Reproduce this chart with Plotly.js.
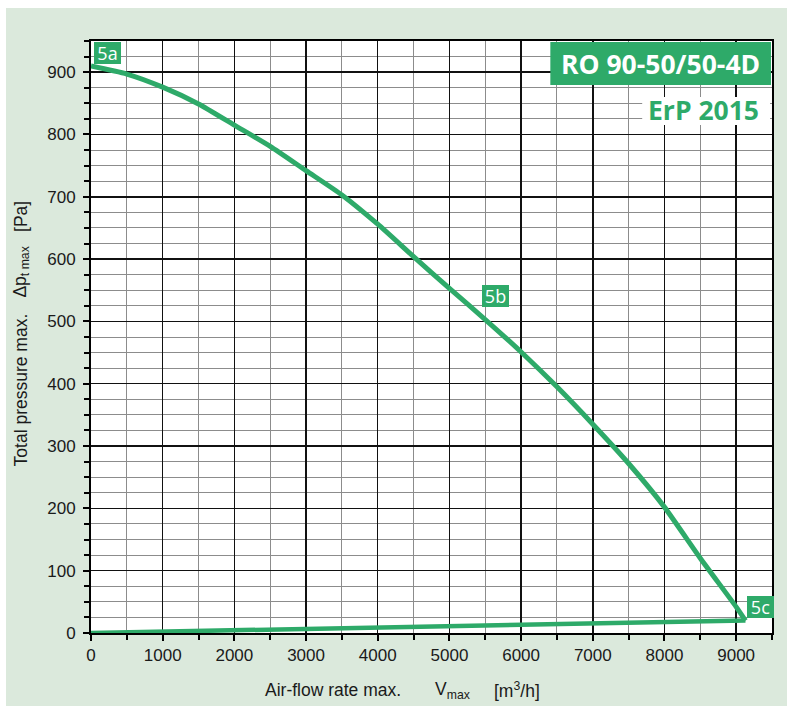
<!DOCTYPE html>
<html><head><meta charset="utf-8">
<script src="https://cdn.plot.ly/plotly-3.0.1.min.js"></script>
<style>
html,body{margin:0;padding:0;background:#ffffff;width:795px;height:706px;overflow:hidden}
#chart{position:absolute;left:6px;top:8px;width:781px;height:698px}
</style>
</head><body><div id="chart"></div>
<script>
// Fan curve: air-flow [m3/h] vs total pressure [Pa]
const flowCurve = [0, 500, 1000, 1500, 2000, 2500, 3000, 3500, 4000, 4500, 5000, 5500, 6000, 6500, 7000, 7500, 8000, 8500, 9000, 9130];
const pressureCurve = [910, 897, 876, 849, 815, 781, 742, 703, 656, 604, 553, 503, 451, 395, 335, 272, 202, 120, 42, 20];
// closing line back to origin
const returnFlow = [9130, 0];
const returnPressure = [20, 0];
// point labels
const pointLabels = ['5a', '5b', '5c'];
const labelFlow = [229, 5647, 9333];
const labelPressure = [931, 541, 41];
// axis ticks
const xTickValues = [0, 1000, 2000, 3000, 4000, 5000, 6000, 7000, 8000, 9000];
const yTickValues = [0, 100, 200, 300, 400, 500, 600, 700, 800, 900];
const modelName = 'RO 90-50/50-4D';
const erpLabel = 'ErP 2015';

const GREEN = '#2eaa69';
const tickFont = {family: 'Liberation Sans, Arial, sans-serif', size: 17, color: '#1a1a1a'};
const titleFont = {family: 'Liberation Sans, Arial, sans-serif', size: 17.5, color: '#1a1a1a'};

const traces = [
  {x: returnFlow, y: returnPressure, mode: 'lines', line: {color: GREEN, width: 4.5}, hoverinfo: 'skip', cliponaxis: false},
  {x: flowCurve, y: pressureCurve, mode: 'lines', line: {color: GREEN, width: 5, shape: 'spline', smoothing: 0.6}, hoverinfo: 'skip', cliponaxis: false}
];

const annotations = pointLabels.map((t, i) => ({
  x: labelFlow[i], y: labelPressure[i], xref: 'x', yref: 'y',
  xanchor: 'center', yanchor: 'middle',
  text: t, showarrow: false,
  font: {family: 'Open Sans, sans-serif', size: 18, color: '#ffffff'},
  bgcolor: GREEN, borderpad: 1, borderwidth: 0,
  width: 25, height: 20
}));

annotations.push(
  {xref: 'paper', yref: 'paper', x: 0.8365, y: 0.9611, xanchor: 'center', yanchor: 'middle', text: '<b>' + modelName + '</b>', showarrow: false,
   font: {family: 'Open Sans, sans-serif', size: 26.5, color: '#ffffff'}},
  {xref: 'paper', yref: 'paper', x: 0.8996, y: 0.8834, xanchor: 'center', yanchor: 'middle', text: '<b>' + erpLabel + '</b>', showarrow: false,
   font: {family: 'Open Sans, sans-serif', size: 26.5, color: GREEN}},
  {xref: 'paper', yref: 'paper', x: 0.2522, y: -0.0963, xanchor: 'left', yanchor: 'middle', text: 'Air-flow rate max.', showarrow: false, font: titleFont},
  {xref: 'paper', yref: 'paper', x: 0.502, y: -0.0963, xanchor: 'left', yanchor: 'middle', text: 'V<sub>max</sub>', showarrow: false, font: titleFont},
  {xref: 'paper', yref: 'paper', x: 0.5895, y: -0.0963, xanchor: 'left', yanchor: 'middle', text: '[m<sup>3</sup>/h]', showarrow: false, font: titleFont},
  {xref: 'paper', yref: 'paper', x: -0.1026, y: 0.410, xanchor: 'center', yanchor: 'middle', textangle: -90, text: 'Total pressure max.', showarrow: false, font: titleFont},
  {xref: 'paper', yref: 'paper', x: -0.1026, y: 0.609, xanchor: 'center', yanchor: 'middle', textangle: -90, text: 'Δp<sub>t max</sub>', showarrow: false, font: titleFont},
  {xref: 'paper', yref: 'paper', x: -0.1026, y: 0.703, xanchor: 'center', yanchor: 'middle', textangle: -90, text: '[Pa]', showarrow: false, font: titleFont}
);

const shapes = [
  {type: 'rect', xref: 'paper', yref: 'paper', x0: 0.6745, x1: 0.9985, y0: 0.9257, y1: 0.9983, fillcolor: GREEN, line: {width: 0}, layer: 'above'},
  {type: 'rect', xref: 'paper', yref: 'paper', x0: 0.8094, x1: 0.9971, y0: 0.8581, y1: 0.9054, fillcolor: '#ffffff', line: {width: 0}, layer: 'above'}
];

const layout = {
  width: 781, height: 698,
  margin: {l: 85, r: 15, t: 33, b: 73, pad: 0},
  paper_bgcolor: '#dbe9dc', plot_bgcolor: '#ffffff',
  showlegend: false, hovermode: false,
  xaxis: {
    range: [0, 9500], tickvals: xTickValues, ticks: 'outside', ticklen: 6, tickwidth: 2, tickcolor: '#000',
    showgrid: true, gridcolor: '#111111', gridwidth: 1.5, zeroline: false,
    showline: true, linecolor: '#000', linewidth: 2, mirror: true,
    tickfont: tickFont, fixedrange: true,
    minor: {tick0: 0, dtick: 500, ticks: 'outside', ticklen: 5, tickwidth: 2, tickcolor: '#000', showgrid: true, gridcolor: '#8c8c8c', gridwidth: 1}
  },
  yaxis: {
    range: [0, 950], tickvals: yTickValues, ticks: 'outside', ticklen: 6, tickwidth: 2, tickcolor: '#000',
    showgrid: true, gridcolor: '#111111', gridwidth: 1.5, zeroline: false,
    showline: true, linecolor: '#000', linewidth: 2, mirror: true,
    tickfont: tickFont, fixedrange: true, ticklabelstandoff: 4,
    minor: {tick0: 0, dtick: 25, ticks: 'outside', ticklen: 5, tickwidth: 2, tickcolor: '#000', showgrid: true, gridcolor: '#8c8c8c', gridwidth: 1}
  },
  annotations: annotations,
  shapes: shapes
};

Plotly.newPlot('chart', traces, layout, {displayModeBar: false, staticPlot: true});
</script>
</body></html>
